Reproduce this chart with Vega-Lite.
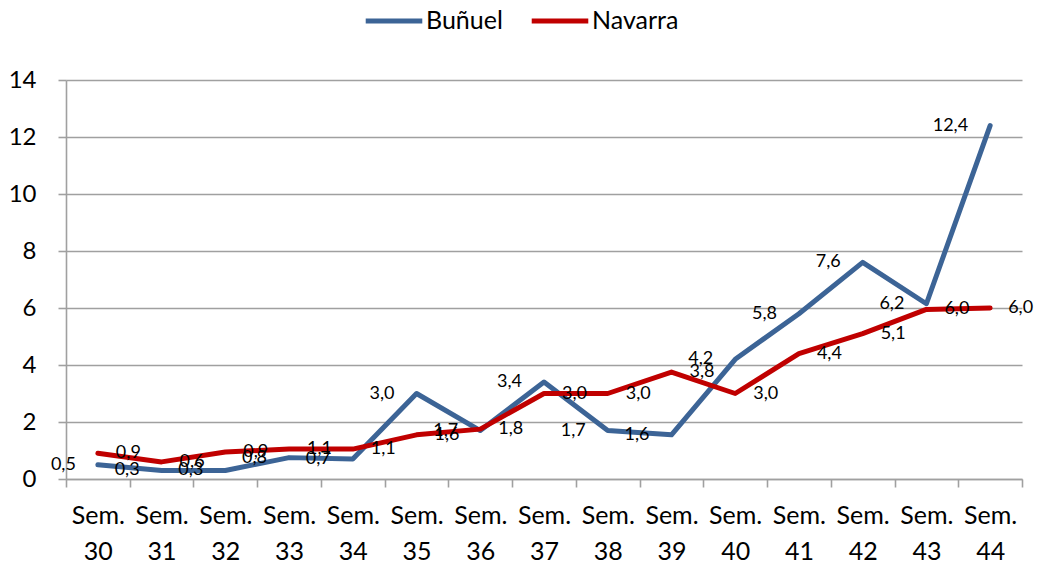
{
  "$schema": "https://vega.github.io/schema/vega-lite/v6.json",
  "width": 956,
  "height": 399,
  "autosize": {"type": "none"},
  "padding": {"left": 66, "top": 80, "right": 19, "bottom": 86},
  "background": "white",
  "config": {
    "font": "Lato",
    "view": {"stroke": null},
    "axis": {"labelFont": "Lato", "labelColor": "#000000", "labelFontSize": 24, "domainColor": "#A0A0A0", "tickColor": "#A0A0A0", "gridColor": "#A0A0A0", "domainWidth": 1.6, "tickWidth": 1.6, "gridWidth": 1.6, "tickSize": 8, "title": null}
  },
  "data": {"values": [
    {"sem": "30", "serie": "Buñuel", "v": 0.5}, {"sem": "31", "serie": "Buñuel", "v": 0.3}, {"sem": "32", "serie": "Buñuel", "v": 0.3},
    {"sem": "33", "serie": "Buñuel", "v": 0.75}, {"sem": "34", "serie": "Buñuel", "v": 0.7}, {"sem": "35", "serie": "Buñuel", "v": 3.0},
    {"sem": "36", "serie": "Buñuel", "v": 1.7}, {"sem": "37", "serie": "Buñuel", "v": 3.4}, {"sem": "38", "serie": "Buñuel", "v": 1.7},
    {"sem": "39", "serie": "Buñuel", "v": 1.55}, {"sem": "40", "serie": "Buñuel", "v": 4.2}, {"sem": "41", "serie": "Buñuel", "v": 5.8},
    {"sem": "42", "serie": "Buñuel", "v": 7.6}, {"sem": "43", "serie": "Buñuel", "v": 6.15}, {"sem": "44", "serie": "Buñuel", "v": 12.4},
    {"sem": "30", "serie": "Navarra", "v": 0.9}, {"sem": "31", "serie": "Navarra", "v": 0.6}, {"sem": "32", "serie": "Navarra", "v": 0.95},
    {"sem": "33", "serie": "Navarra", "v": 1.05}, {"sem": "34", "serie": "Navarra", "v": 1.05}, {"sem": "35", "serie": "Navarra", "v": 1.55},
    {"sem": "36", "serie": "Navarra", "v": 1.75}, {"sem": "37", "serie": "Navarra", "v": 3.0}, {"sem": "38", "serie": "Navarra", "v": 3.0},
    {"sem": "39", "serie": "Navarra", "v": 3.75}, {"sem": "40", "serie": "Navarra", "v": 3.0}, {"sem": "41", "serie": "Navarra", "v": 4.4},
    {"sem": "42", "serie": "Navarra", "v": 5.1}, {"sem": "43", "serie": "Navarra", "v": 5.95}, {"sem": "44", "serie": "Navarra", "v": 6.0}
  ]},
  "encoding": {
    "x": {"field": "sem", "type": "ordinal", "bandPosition": 0.5, "sort": null,
      "scale": {"type": "band", "paddingInner": 0, "paddingOuter": 0},
      "axis": {"labelAngle": 0, "tickBand": "extent", "labelPadding": 16, "labelLineHeight": 36, "labelBaseline": "top", "labelFontSize": 25,
        "labelExpr": "datum.label == '' || datum.label == null ? '' : ['Sem.', datum.label]", "grid": false}},
    "y": {"field": "v", "type": "quantitative",
      "scale": {"domain": [0, 14], "nice": false},
      "axis": {"values": [0, 2, 4, 6, 8, 10, 12, 14], "grid": true, "domain": true, "labelPadding": 22}}
  },
  "layer": [
    {
      "mark": {"type": "line", "strokeWidth": 5, "strokeJoin": "round", "strokeCap": "round"},
      "encoding": {
        "color": {"field": "serie", "type": "nominal",
          "scale": {"domain": ["Buñuel", "Navarra"], "range": ["#3C6496", "#C00000"]},
          "legend": {"orient": "none", "direction": "horizontal", "legendX": 297, "legendY": -90, "title": null,
            "symbolType": "stroke", "symbolSize": 3200, "symbolStrokeWidth": 5, "labelFontSize": 25, "labelFont": "Lato",
            "labelColor": "#000000", "columnPadding": 18, "labelOffset": 1}}
      }
    },
    {
      "transform": [{"filter": "datum.serie == 'Buñuel'"}],
      "mark": {"type": "text", "align": "right", "baseline": "middle", "dx": -22, "fontSize": 18, "color": "#000000",
        "text": {"expr": "replace(format(datum.v, '.1f'), '.', ',')"}},
      "encoding": {}
    },
    {
      "transform": [{"filter": "datum.serie == 'Navarra'"}],
      "mark": {"type": "text", "align": "left", "baseline": "middle", "dx": 18, "fontSize": 18, "color": "#000000",
        "text": {"expr": "replace(format(datum.v, '.1f'), '.', ',')"}},
      "encoding": {}
    }
  ]
}
